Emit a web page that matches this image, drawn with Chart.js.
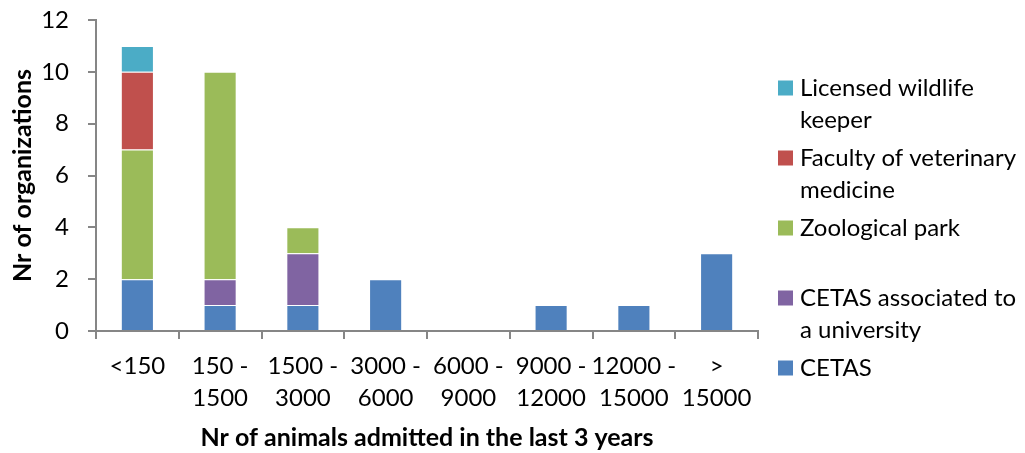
<!DOCTYPE html>
<html>
<head>
<meta charset="utf-8">
<script src="https://cdn.jsdelivr.net/npm/chart.js@4/dist/chart.umd.min.js"></script>
<style>
  html, body { margin: 0; padding: 0; background: #fff; }
  #wrap { position: relative; width: 1025px; height: 453px; }
</style>
</head>
<body>
<div id="wrap"><canvas id="c" width="1025" height="453"></canvas></div>
<script>
// Admission size classes (x axis), two-line labels
const categories = [
  ['<150'], ['150 -', '1500'], ['1500 -', '3000'], ['3000 -', '6000'],
  ['6000 -', '9000'], ['9000 -', '12000'], ['12000 -', '15000'], ['>', '15000']
];

// Number of organizations per type in each class
const cetas        = [2, 1, 1, 2, 0, 1, 1, 3];
const cetasUniv    = [0, 1, 2, 0, 0, 0, 0, 0];
const zooPark      = [5, 8, 1, 0, 0, 0, 0, 0];
const vetFaculty   = [3, 0, 0, 0, 0, 0, 0, 0];
const wildKeeper   = [1, 0, 0, 0, 0, 0, 0, 0];

// Legend text, wrapped as it is printed beside the plot
const legendLines = {
  'CETAS': ['CETAS'],
  'CETAS associated to a university': ['CETAS associated to', 'a university'],
  'Zoological park': ['Zoological park'],
  'Faculty of veterinary medicine': ['Faculty of veterinary', 'medicine'],
  'Licensed wildlife keeper': ['Licensed wildlife', 'keeper']
};

const yTicks = [0, 2, 4, 6, 8, 10, 12];

const FONT = 'Lato, "Open Sans", sans-serif';
const SIZE = 24;
const AXIS = '#868686';

function ds(label, data, color) {
  return {
    label, data,
    backgroundColor: color,
    borderColor: 'rgba(255,255,255,0.55)',
    borderWidth: 1,
    borderSkipped: 'bottom',
    categoryPercentage: 0.8,
    barPercentage: 0.5
  };
}

// Side legend, drawn top-down from the last stacked series to the first
const sideLegend = {
  id: 'sideLegend',
  afterDraw(chart) {
    const ctx = chart.ctx;
    const items = chart.data.datasets.slice().reverse();
    const x0 = 778, box = 15, textX = 800, top = 88, step = 70, lh = 32;
    ctx.save();
    ctx.font = SIZE + 'px ' + FONT;
    ctx.textBaseline = 'middle';
    items.forEach((d, i) => {
      const y = top + i * step;
      ctx.fillStyle = d.backgroundColor;
      ctx.fillRect(x0, y - box / 2, box, box);
      ctx.fillStyle = '#000';
      (legendLines[d.label] || [d.label]).forEach((t, j) => {
        ctx.fillText(t, textX, y + j * lh);
      });
    });
    ctx.restore();
  }
};

new Chart(document.getElementById('c'), {
  type: 'bar',
  data: {
    labels: categories,
    datasets: [
      ds('CETAS', cetas, '#4F81BD'),
      ds('CETAS associated to a university', cetasUniv, '#8064A2'),
      ds('Zoological park', zooPark, '#9BBB59'),
      ds('Faculty of veterinary medicine', vetFaculty, '#C0504D'),
      ds('Licensed wildlife keeper', wildKeeper, '#4BACC6')
    ]
  },
  options: {
    responsive: false,
    animation: false,
    layout: { padding: { top: 20, right: 267, left: 0, bottom: 0 } },
    plugins: { legend: { display: false }, tooltip: { enabled: false } },
    scales: {
      x: {
        stacked: true,
        offset: true,
        grid: {
          offset: true, drawOnChartArea: false, drawTicks: true,
          tickLength: 8, color: AXIS, lineWidth: 2
        },
        border: { color: AXIS, width: 2 },
        ticks: {
          color: '#000', padding: 12, maxRotation: 0, autoSkip: false,
          font: { family: FONT, size: SIZE, lineHeight: 1.3 }
        },
        title: {
          display: true, text: 'Nr of animals admitted in the last 3 years',
          color: '#000', font: { family: FONT, size: 25, weight: 'bold' },
          padding: { top: 8, bottom: 0 }
        },
        afterFit(scale) { scale.height = 122; }
      },
      y: {
        stacked: true,
        min: 0, max: 12,
        afterBuildTicks(scale) { scale.ticks = yTicks.map(v => ({ value: v })); },
        grid: {
          drawOnChartArea: false, drawTicks: true,
          tickLength: 8, color: AXIS, lineWidth: 2
        },
        border: { color: AXIS, width: 2 },
        ticks: {
          color: '#000', padding: 19,
          font: { family: FONT, size: SIZE }
        },
        title: {
          display: true, text: 'Nr of organizations',
          color: '#000', font: { family: FONT, size: 25, weight: 'bold' },
          padding: { top: 8, bottom: 0 }
        },
        afterFit(scale) {
          scale.width = 96;
          scale.paddingTop = 0;
          scale.paddingBottom = 0;
        }
      }
    }
  },
  plugins: [sideLegend]
});
</script>
</body>
</html>
